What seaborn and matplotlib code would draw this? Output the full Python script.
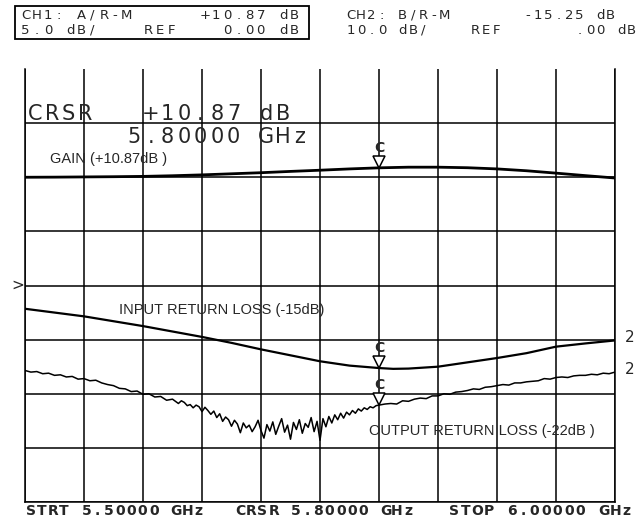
import numpy as np
import pandas as pd
import matplotlib
matplotlib.use("Agg")
import matplotlib.pyplot as plt
import matplotlib.transforms as mtransforms
import seaborn as sns

# ---------------- data ----------------
# CH1: gain, 5 dB/div, reference 0 dB at centre line
freq_gain = [5.500, 5.525, 5.550, 5.575, 5.600, 5.625, 5.650, 5.675, 5.700, 5.725,
             5.750, 5.775, 5.800, 5.825, 5.850, 5.875, 5.900, 5.925, 5.950, 5.975, 6.000]
gain_db = [10.00, 10.01, 10.03, 10.05, 10.08, 10.14, 10.22, 10.32, 10.42, 10.54,
           10.65, 10.77, 10.87, 10.93, 10.93, 10.88, 10.77, 10.60, 10.38, 10.15, 9.93]

# CH2: input return loss, 10 dB/div, reference 0 dB at centre line
freq_irl = [5.500, 5.525, 5.550, 5.575, 5.600, 5.625, 5.650, 5.675, 5.700, 5.725,
            5.750, 5.775, 5.800, 5.812, 5.825, 5.850, 5.875, 5.900, 5.925, 5.950, 5.975, 6.000]
irl_db = [-4.3, -5.0, -5.7, -6.6, -7.5, -8.5, -9.5, -10.6, -11.8, -12.9,
          -14.0, -14.8, -15.25, -15.4, -15.35, -15.0, -14.2, -13.4, -12.5, -11.3, -10.7, -10.15]

# CH2: output return loss (noisy trace), 10 dB/div
freq_orl = np.round(np.concatenate([np.arange(5.500, 5.6201, 0.005),
                                    np.arange(5.625, 5.80001, 0.0025),
                                    np.arange(5.805, 6.00001, 0.005)]), 4)
orl_start = [-15.7, -16.0, -15.9, -16.3, -16.2, -16.6, -16.5, -16.9, -16.8, -17.3,
             -17.2, -17.6, -17.5, -18.0, -18.3, -18.5, -19.0, -19.1, -19.6, -19.5,
             -20.1, -20.0, -20.6, -20.5, -21.2]
orl_middle = [-21.0, -21.4, -21.8, -21.3, -21.6, -22.2, -22.0, -22.6, -22.1, -22.4,
              -23.3, -22.5, -23.1, -23.8, -23.2, -24.4, -23.7, -25.1, -24.3, -24.8,
              -26.0, -24.9, -25.6, -27.2, -25.4, -26.3, -25.8, -27.0, -26.1, -24.9,
              -26.8, -28.2, -25.7, -26.9, -25.2, -27.5, -26.0, -24.6, -27.1, -25.8,
              -28.4, -25.3, -26.6, -24.8, -27.3, -25.5, -26.2, -24.4, -27.0, -25.1,
              -28.6, -24.6, -26.1, -24.2, -25.4, -23.9, -24.8, -23.6, -24.5, -23.4,
              -23.9, -23.1, -23.6, -22.8, -23.2, -22.6, -22.9, -22.4, -22.6, -22.2,
              -22.1]
orl_end = [-21.9, -21.8, -21.9, -21.3, -21.4, -21.0, -20.8, -20.9, -20.4, -20.4,
           -20.0, -20.1, -19.7, -19.6, -19.4, -19.1, -19.2, -18.8, -18.7, -18.5,
           -18.3, -18.4, -18.0, -18.0, -17.8, -17.7, -17.6, -17.2, -17.3, -17.0,
           -16.9, -17.0, -16.7, -16.6, -16.6, -16.4, -16.5, -16.2, -16.3, -16.0]
orl_db = orl_start + orl_middle + orl_end

ch1_scale, ch2_scale = 5.0, 10.0     # dB per division
cursor_freq = 5.80
cursor_gain, cursor_irl, cursor_orl = 10.87, -15.25, -22.1

# ---------------- figure ----------------
sns.set_style("white")
plt.rcParams['font.family'] = ['DejaVu Sans']
W, H = 642, 519
fig = plt.figure(figsize=(W / 100, H / 100), dpi=100)
fig.patch.set_facecolor("white")

def fx(px):
    return px / W

def fy(py):
    return 1 - py / H

ax = fig.add_axes([fx(25), fy(502), fx(615) - fx(25), fy(69) - fy(502)])

df_gain = pd.DataFrame({"freq": freq_gain, "div": np.array(gain_db) / ch1_scale})
df_irl = pd.DataFrame({"freq": freq_irl, "div": np.array(irl_db) / ch2_scale})
df_orl = pd.DataFrame({"freq": freq_orl, "div": np.array(orl_db) / ch2_scale})

sns.lineplot(data=df_gain, x="freq", y="div", ax=ax, color="black", linewidth=2.0, legend=False)
sns.lineplot(data=df_irl, x="freq", y="div", ax=ax, color="black", linewidth=1.6, legend=False)
sns.lineplot(data=df_orl, x="freq", y="div", ax=ax, color="black", linewidth=1.1, legend=False)

ax.set_xlim(5.5, 6.0)
ax.set_ylim(-4, 4)
ax.set_xticks(np.arange(5.5, 6.0001, 0.05))
ax.set_yticks(np.arange(-4, 4))
ax.grid(True, color="black", linewidth=1.1)
ax.tick_params(length=0, labelleft=False, labelbottom=False)
ax.set_xlabel("")
ax.set_ylabel("")
for side in ["left", "right", "bottom"]:
    ax.spines[side].set_color("black")
    ax.spines[side].set_linewidth(1.1)
ax.spines["top"].set_visible(False)

# cursor markers: triangle with its tip on the trace, "C" above it
tri_tf = mtransforms.offset_copy(ax.transData, fig=fig, x=0, y=4.2, units="points")
for val, sc in [(cursor_gain, ch1_scale), (cursor_irl, ch2_scale), (cursor_orl, ch2_scale)]:
    yv = val / sc
    ax.plot([cursor_freq], [yv], marker="v", markersize=9, markerfacecolor="white",
            markeredgecolor="black", markeredgewidth=1.1, linestyle="none",
            transform=tri_tf, zorder=5)
    ax.annotate("C", xy=(cursor_freq, yv), xytext=(0.5, 14.5), textcoords="offset points",
                ha="center", va="center", fontsize=10, fontweight="bold", zorder=6)

# ---------------- text ----------------
def mono(x0, yc, s, pitch, size, weight="normal"):
    for i, ch in enumerate(s):
        if ch != " ":
            fig.text(fx(x0 + i * pitch + pitch * 0.45), fy(yc), ch, ha="center", va="center",
                     fontsize=size, fontweight=weight, family="DejaVu Sans")

# header boxes
box = plt.Rectangle((fx(15), fy(39)), fx(309) - fx(15), fy(6) - fy(39), transform=fig.transFigure,
                    fill=False, edgecolor="black", linewidth=1.3)
fig.add_artist(box)
mono(20.5, 15.5, "CH1: A/R-M      +10.87 dB", 11.2, 9.5)
mono(20.5, 30, "5.0 dB/    REF    0.00 dB", 11.2, 9.5)
mono(346, 15.5, "CH2: B/R-M       -15.25 dB", 10.4, 9.5)
mono(346, 30, "10.0 dB/    REF       .00 dB", 10.4, 9.5)

# cursor readout
mono(28, 113.5, "CRSR   +10.87 dB", 16.5, 15)
mono(28, 137, "      5.80000 GHz", 16.5, 15)

# trace labels
lab = dict(family=["Liberation Sans", "DejaVu Sans"], fontsize=10.5, ha="left", va="center")
ax.text(5.5215, 2.33, "GAIN (+10.87dB )", **lab)
ax.text(5.5797, -0.46, "INPUT RETURN LOSS (-15dB)", **lab)
ax.text(5.7915, -2.69, "OUTPUT RETURN LOSS (-22dB )", **lab)

fig.text(fx(18), fy(285), ">", ha="center", va="center", fontsize=11)
fig.text(fx(630), fy(338), "2", ha="center", va="center", fontsize=11)
fig.text(fx(630), fy(370), "2", ha="center", va="center", fontsize=11)

# bottom annotation
mono(25.5, 511, "STRT 5.50000 GHz", 11.2, 10, "bold")
mono(235, 511, "CRSR 5.80000 GHz", 11.2, 10, "bold")
mono(449, 511, "STOP 6.00000 GHz", 11.5, 10, "bold")

fig.savefig("out.png", dpi=100, facecolor="white")
